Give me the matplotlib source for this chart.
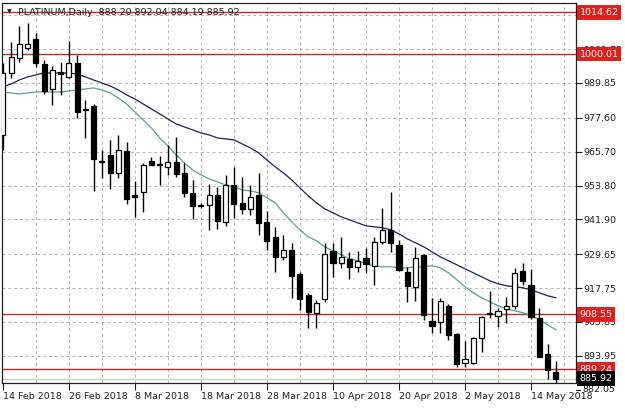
# PLATINUM daily candles, MT4 style
import numpy as np
import matplotlib.pyplot as plt
import matplotlib.transforms as mtransforms

# Data
opens = [971.6, 993.4, 998.6, 1002.1, 1005.3, 996.5, 987.7, 993.7, 992.0, 996.9,
         980.6, 981.8, 962.3, 964.6, 958.2, 966.0, 950.3, 951.6, 962.5, 961.2,
         960.4, 962.1, 958.2, 951.2, 946.8, 947.0, 950.5, 941.0, 954.0, 947.7,
         945.6, 950.5, 941.0, 935.8, 928.8, 931.2, 922.8, 915.4, 909.1, 914.0,
         930.9, 926.6, 928.0, 925.2, 928.4, 925.6, 934.0, 938.2, 933.0, 923.5,
         918.2, 929.5, 906.3, 905.9, 911.5, 901.7, 891.5, 891.5, 900.3, 908.6,
         908.0, 910.5, 911.5, 923.8, 918.9, 907.3, 894.7, 888.20]
highs = [996.9, 1004.2, 1009.9, 1010.9, 1007.4, 997.9, 995.8, 997.2, 1004.6, 999.7,
         983.9, 982.5, 966.3, 969.8, 971.6, 969.1, 955.4, 961.8, 963.9, 964.2,
         968.1, 970.9, 961.8, 955.8, 947.7, 954.4, 953.3, 957.5, 960.4, 956.8,
         954.0, 958.2, 944.9, 939.3, 936.5, 933.7, 923.5, 916.1, 913.7, 933.7,
         933.7, 935.8, 930.5, 930.9, 931.9, 935.8, 945.9, 951.6, 934.7, 925.2,
         932.3, 929.8, 914.4, 914.4, 912.2, 902.1, 899.0, 900.6, 908.0, 916.8,
         910.8, 914.7, 924.9, 926.6, 924.5, 910.8, 898.2, 892.04]
lows = [966.3, 991.6, 997.2, 1001.4, 995.5, 986.0, 982.1, 985.6, 991.6, 977.6,
        970.5, 951.9, 956.5, 952.6, 956.5, 947.4, 942.8, 944.6, 960.9, 954.0,
        957.5, 956.8, 949.8, 942.1, 945.9, 938.2, 938.6, 939.6, 942.4, 943.8,
        943.5, 936.5, 931.2, 923.5, 927.7, 914.4, 910.1, 903.8, 903.8, 912.9,
        921.7, 924.9, 921.0, 923.5, 923.1, 918.9, 933.3, 930.5, 923.8, 912.9,
        913.3, 906.6, 902.1, 902.1, 899.6, 890.1, 890.1, 891.2, 895.4, 907.3,
        904.2, 905.6, 910.5, 918.9, 907.0, 893.6, 885.9, 884.19]
closes = [993.4, 999.0, 1003.5, 1003.5, 996.9, 987.0, 994.4, 993.0, 996.9, 979.7,
          980.2, 963.2, 962.1, 958.2, 966.3, 949.1, 949.9, 961.1, 961.1, 960.9,
          962.1, 957.9, 951.2, 946.6, 946.5, 950.5, 941.4, 954.0, 947.3, 945.6,
          949.8, 940.7, 934.4, 928.8, 931.2, 922.1, 914.0, 909.4, 912.6, 929.8,
          926.6, 928.8, 925.2, 927.3, 926.3, 934.0, 938.2, 933.7, 924.2, 918.6,
          928.4, 908.4, 904.5, 913.3, 901.4, 891.2, 892.9, 900.3, 907.7, 908.9,
          909.8, 911.5, 923.1, 920.3, 907.7, 893.6, 889.1, 885.92]

ma_slow = [988.45, 989.50, 990.90, 991.96, 992.66, 993.36, 993.36, 993.36, 993.36, 993.01,
           991.96, 990.90, 989.85, 988.80, 987.39, 985.64, 984.23, 982.48, 980.72, 978.97,
           977.21, 975.46, 974.40, 973.35, 972.29, 971.59, 970.54, 970.19, 969.84, 968.43,
           967.02, 965.27, 962.81, 960.36, 958.25, 955.79, 952.98, 950.18, 947.72, 945.61,
           944.20, 942.80, 941.75, 940.69, 939.64, 939.29, 938.94, 938.23, 936.83, 935.07,
           933.67, 932.27, 930.51, 928.75, 927.35, 925.95, 924.54, 923.14, 921.73, 920.33,
           919.28, 918.57, 918.22, 917.87, 917.17, 916.11, 915.06, 914.36]
ma_fast = [986.69, 986.34, 985.99, 986.34, 986.69, 986.69, 986.69, 986.69, 987.04, 987.39,
           987.74, 988.09, 987.39, 986.34, 984.58, 982.48, 979.67, 976.86, 974.05, 970.54,
           967.73, 964.57, 961.76, 959.30, 957.55, 956.14, 955.09, 954.04, 953.33, 952.28,
           951.93, 951.23, 949.47, 947.72, 944.20, 941.05, 938.23, 935.78, 934.37, 932.27,
           930.86, 929.46, 928.05, 927.35, 926.30, 925.60, 925.24, 925.24, 924.89, 924.89,
           925.24, 925.24, 925.60, 924.89, 923.14, 920.68, 918.22, 916.11, 914.36, 912.95,
           911.55, 910.50, 909.79, 909.09, 908.04, 906.63, 904.88, 903.12]

date_pos = [0, 8, 16, 24, 32, 40, 48, 56, 64]
date_labels = ["14 Feb 2018", "26 Feb 2018", "8 Mar 2018", "18 Mar 2018", "28 Mar 2018",
               "10 Apr 2018", "20 Apr 2018", "2 May 2018", "14 May 2018"]
price_ticks = [1013.65, 1001.75, 989.85, 977.60, 965.70, 953.80, 941.90,
               929.65, 917.75, 905.85, 893.95]
bottom_tick = 882.05
red_levels = [1014.62, 1000.01, 908.55, 889.24]
last_price = 885.92

# Layout
W, H = 625, 411
fig = plt.figure(figsize=(W / 100, H / 100), dpi=100)
ax = fig.add_axes([2 / W, (H - 383) / H, 574 / W, 380 / H])
ax.set_xlim(-0.1, 69.45)
ax.set_ylim(884.4, 1017.95)

fs = 6.8
grid_c = "#b4b4b4"

# Grid
for v in price_ticks:
    ax.axhline(v, color=grid_c, lw=0.7, ls=(0, (3, 3)), zorder=0)
for i in range(4, 70, 4):
    ax.axvline(i, color=grid_c, lw=0.7, ls=(0, (3, 3)), zorder=0)

# Levels
for v in red_levels:
    ax.axhline(v, color="#c0302a", lw=1.0, zorder=1)
ax.axhline(last_price, color="#c8c8c8", lw=0.8, zorder=1)

# Moving averages
x = np.arange(len(closes))
ax.plot(x, ma_slow, color="#1f2448", lw=0.9, zorder=2)
ax.plot(x, ma_fast, color="#5e9e92", lw=0.9, zorder=2)

# Candles
o = np.array(opens)
c = np.array(closes)
up = c >= o
ax.vlines(x, lows, highs, color="black", lw=1.0, zorder=3)
ax.bar(x, np.abs(c - o), bottom=np.minimum(o, c), width=0.62,
       color=np.where(up, "white", "black"), edgecolor="black", lw=0.9, zorder=4)

# Axes styling
for s in ax.spines.values():
    s.set_color("#202020")
    s.set_linewidth(0.9)
ax.yaxis.tick_right()
ax.set_yticks(price_ticks)
ax.set_yticklabels([f"{v:.2f}" for v in price_ticks])
ax.tick_params(axis="y", length=4, width=0.8, pad=1.5, labelsize=fs, colors="#202020")
ax.set_xticks(date_pos)
ax.set_xticklabels(date_labels, ha="left")
ax.tick_params(axis="x", length=5, width=0.8, pad=1.5, labelsize=fs, colors="#202020")

ytr = mtransforms.blended_transform_factory(ax.transAxes, ax.transData)
ax.plot([1.0, 1.007], [bottom_tick, bottom_tick], transform=ytr, color="#202020",
        lw=0.8, clip_on=False)
ax.text(1.0105, bottom_tick, f"{bottom_tick:.2f}", transform=ytr, ha="left",
        va="center", fontsize=fs, color="#202020", clip_on=False)

# Price labels on the right (they sit over the plain tick labels, as in MT4)
for v in red_levels:
    ax.text(1.006, v, f"{v:.2f}", transform=ytr, ha="left", va="center", fontsize=fs,
            color="white", clip_on=False, zorder=6,
            bbox=dict(boxstyle="square,pad=0.3", fc="#e0201c", ec="none"))
ax.text(1.006, last_price, f"{last_price:.2f}", transform=ytr, ha="left", va="center",
        fontsize=fs, color="white", clip_on=False, zorder=6,
        bbox=dict(boxstyle="square,pad=0.3", fc="black", ec="none"))

# Header
ax.text(0.008, 0.976, "\u25bc", transform=ax.transAxes, fontsize=4.5, va="center",
        ha="left", color="#202020")
ax.text(0.028, 0.976, "PLATINUM,Daily  888.20 892.04 884.19 885.92", transform=ax.transAxes,
        fontsize=fs, va="center", ha="left", color="#202020")

fig.savefig("out.png", dpi=100, facecolor="white")
